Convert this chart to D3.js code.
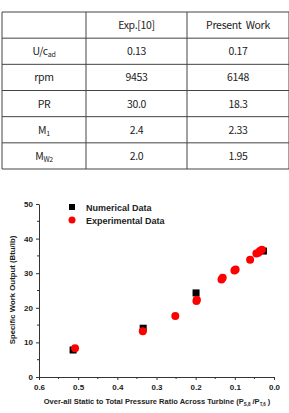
<!DOCTYPE html>
<html>
<head>
<meta charset="utf-8">
<script src="https://cdn.jsdelivr.net/npm/d3@7"></script>
<style>
  body { margin: 0; background: #fff; }
  svg { display: block; }
</style>
</head>
<body>
<script>
// table data
const col_heads = ['', 'Exp.[10]', 'Present  Work'];
const row_names = [['U/c', 'ad'], ['rpm', ''], ['PR', ''], ['M', '1'], ['M', 'W2']];
const exp_vals = ['0.13', '9453', '30.0', '2.4', '2.0'];
const present_vals = ['0.17', '6148', '18.3', '2.33', '1.95'];

// chart data: [pressure ratio, work output]
const numerical = [[0.513, 7.8], [0.334, 14.1], [0.199, 24.3], [0.027, 36.4]];
const experimental = [[0.508, 8.3], [0.335, 13.2], [0.252, 17.6], [0.198, 22.0], [0.197, 22.3],
    [0.134, 28.2], [0.131, 28.7], [0.101, 30.8], [0.098, 31.1], [0.061, 33.9],
    [0.045, 35.7], [0.040, 35.9], [0.036, 36.4], [0.031, 36.8]];
const x_ticks = [0.6, 0.5, 0.4, 0.3, 0.2, 0.1, 0.0];
const y_ticks = [0, 10, 20, 30, 40, 50];

const W = 289, H = 413;
var svg = d3.select('body').append('svg').attr('width', W).attr('height', H);

// ---- table ----
const tbl = {left: 2, top: 12, bottom: 169};
const col_edges = [2, 86, 187, 289];
const row_h = (tbl.bottom - tbl.top) / 6;
const tfont = '"Noto Sans CJK KR", "Noto Sans", sans-serif';
var table = svg.append('g').attr('font-family', tfont).attr('font-size', '10.5px')
    .attr('fill', '#222').attr('font-weight', 400).attr('letter-spacing', '-0.3px');

for (let r = 0; r <= 6; r++) {
    table.append('line').attr('x1', col_edges[0]).attr('x2', col_edges[3])
        .attr('y1', tbl.top + r * row_h).attr('y2', tbl.top + r * row_h)
        .attr('stroke', '#444').attr('stroke-width', 1);
}
col_edges.forEach(function (x) {
    table.append('line').attr('x1', x).attr('x2', x)
        .attr('y1', tbl.top).attr('y2', tbl.bottom)
        .attr('stroke', '#444').attr('stroke-width', 1);
});

function cx(c) { return (col_edges[c] + col_edges[c + 1]) / 2; }
function cy(r) { return tbl.top + (r + 0.5) * row_h + 4; }

col_heads.forEach(function (t, c) {
    table.append('text').attr('x', cx(c)).attr('y', cy(0)).attr('text-anchor', 'middle')
        .attr('xml:space', 'preserve').text(t);
});
row_names.forEach(function (n, i) {
    var t = table.append('text').attr('x', cx(0)).attr('y', cy(i + 1)).attr('text-anchor', 'middle');
    t.append('tspan').text(n[0]);
    if (n[1]) t.append('tspan').attr('font-size', '7px').attr('dy', 2).text(n[1]);
    table.append('text').attr('x', cx(1)).attr('y', cy(i + 1)).attr('text-anchor', 'middle').text(exp_vals[i]);
    table.append('text').attr('x', cx(2)).attr('y', cy(i + 1)).attr('text-anchor', 'middle').text(present_vals[i]);
});

// ---- scatter chart ----
var x_scale = d3.scaleLinear().domain([0.6, 0]).range([39, 274]);
var y_scale = d3.scaleLinear().domain([0, 50]).range([377, 204]);
const cfont = 'Arial, "Liberation Sans", sans-serif';

var chart = svg.append('g').attr('font-family', cfont);

var x_axis = d3.axisBottom(x_scale).tickValues(x_ticks).tickFormat(d3.format('.1f')).tickSize(3).tickSizeOuter(0);
var y_axis = d3.axisLeft(y_scale).tickValues(y_ticks).tickSize(3).tickSizeOuter(0);

var gx = chart.append('g').attr('transform', 'translate(0,377)').call(x_axis);
gx.append('g').selectAll('line').data(d3.range(0.55, 0, -0.1)).enter().append('line')
    .attr('x1', d => x_scale(d)).attr('x2', d => x_scale(d)).attr('y1', 0).attr('y2', 2).attr('stroke', '#000');
var gy = chart.append('g').attr('transform', 'translate(39,0)').call(y_axis);
gy.append('g').selectAll('line').data([5, 15, 25, 35, 45]).enter().append('line')
    .attr('y1', d => y_scale(d)).attr('y2', d => y_scale(d)).attr('x1', 0).attr('x2', -2).attr('stroke', '#000');

[gx, gy].forEach(function (g) {
    g.selectAll('text').attr('font-family', cfont).attr('font-weight', 'bold').attr('font-size', '8px').attr('fill', '#222');
    g.selectAll('path, line').attr('stroke', '#333');
});
gx.selectAll('.tick text').attr('dy', '0.9em');

chart.append('text').attr('transform', 'translate(15,290) rotate(-90)').attr('text-anchor', 'middle')
    .attr('font-size', '7.8px').attr('font-weight', 'bold').attr('fill', '#222')
    .text('Specific Work Output (Btu/lb)');

var xl = chart.append('text').attr('x', 157).attr('y', 404).attr('text-anchor', 'middle')
    .attr('font-size', '7.5px').attr('font-weight', 'bold').attr('fill', '#222');
xl.append('tspan').text('Over-all Static to Total Pressure Ratio Across Turbine (P');
xl.append('tspan').attr('font-size', '4.5px').attr('dy', 1.5).text('S,8');
xl.append('tspan').attr('dy', -1.5).text(' /P');
xl.append('tspan').attr('font-size', '4.5px').attr('dy', 1.5).text('T,6');
xl.append('tspan').attr('dy', -1.5).text(' )');

chart.append('g').selectAll('rect').data(numerical).enter().append('rect')
    .attr('x', d => x_scale(d[0]) - 3.5).attr('y', d => y_scale(d[1]) - 3.5)
    .attr('width', 7).attr('height', 7).attr('fill', '#000');

chart.append('g').selectAll('circle').data(experimental).enter().append('circle')
    .attr('cx', d => x_scale(d[0])).attr('cy', d => y_scale(d[1])).attr('r', 4)
    .attr('fill', '#f00');

// legend
var legend = chart.append('g').attr('font-size', '9px').attr('font-weight', 'bold').attr('fill', '#222');
legend.append('rect').attr('x', 69).attr('y', 204).attr('width', 6).attr('height', 6).attr('fill', '#000');
legend.append('text').attr('x', 86).attr('y', 210.5).text('Numerical Data');
legend.append('circle').attr('cx', 72).attr('cy', 220).attr('r', 3.5).attr('fill', '#f00');
legend.append('text').attr('x', 86).attr('y', 223.5).text('Experimental Data');
</script>
</body>
</html>
